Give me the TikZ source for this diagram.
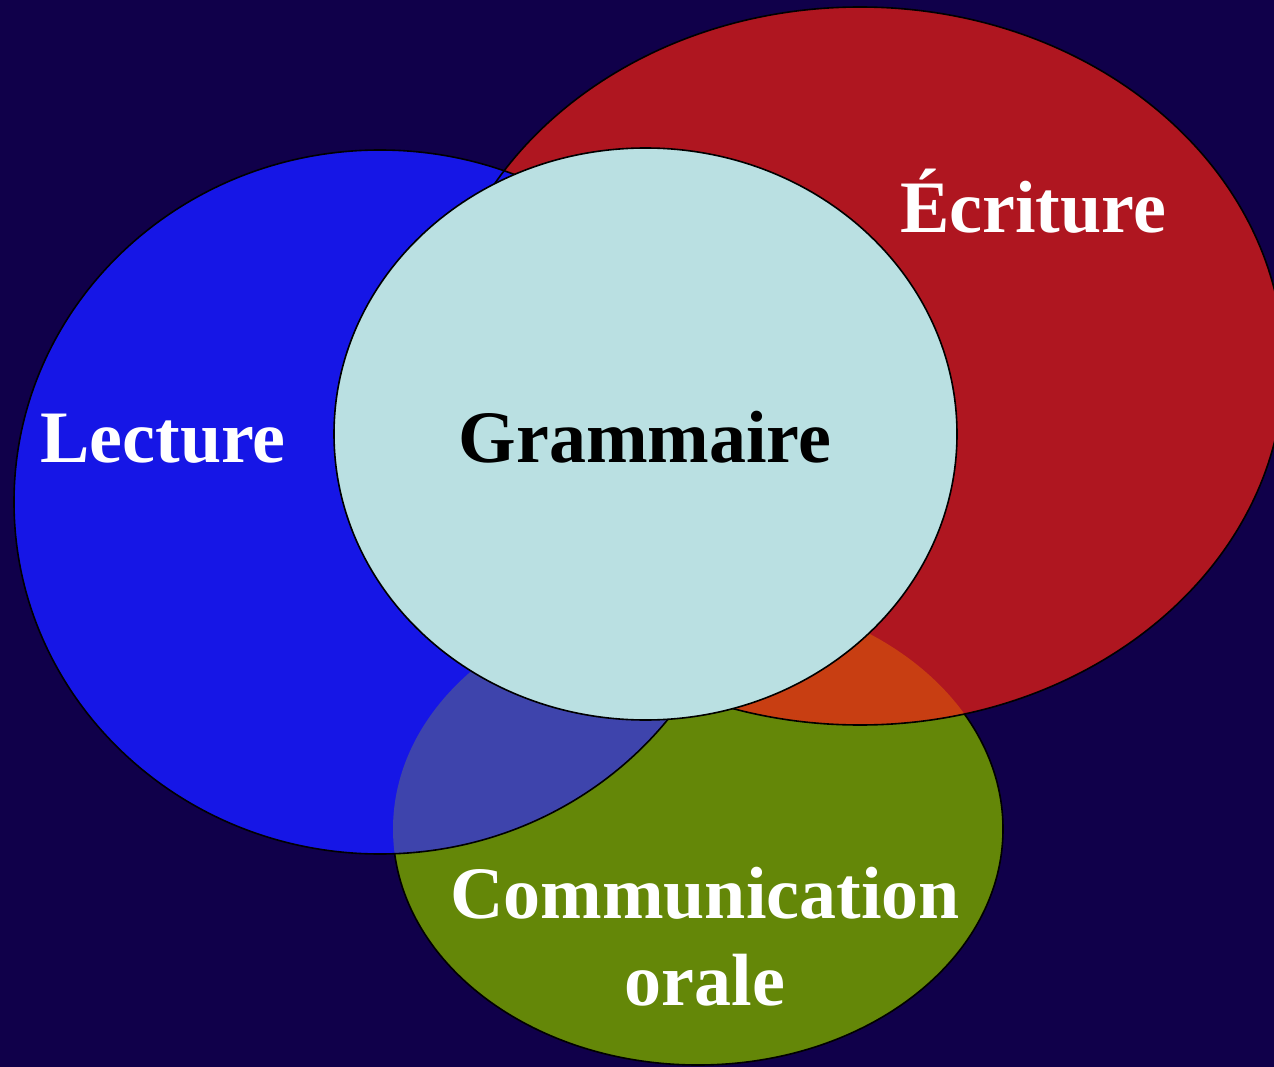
\documentclass[tikz,border=0pt]{standalone}
\usepackage{fontspec}
\setmainfont{Liberation Serif}
\definecolor{bgnavy}{RGB}{16,0,74}
\definecolor{lecblue}{RGB}{22,22,230}
\definecolor{ecrred}{RGB}{175,22,32}
\definecolor{comgreen}{RGB}{100,135,8}
\definecolor{bgmix}{RGB}{62,68,172}
\definecolor{rgmix}{RGB}{200,62,18}
\definecolor{gramcyan}{RGB}{186,224,226}
\tikzset{
  zone/.style={draw=black, line width=1.6pt},
  lbl/.style={font=\fontsize{74}{87}\selectfont\bfseries, text=white, inner sep=0pt, align=center},
}
\begin{document}
\begin{tikzpicture}[x=1pt,y=-1pt]
\useasboundingbox (0,0) rectangle (1274,1067);
\fill[bgnavy] (0,0) rectangle (1274,1067);
% shapes
\coordinate (cg) at (698,829);
\coordinate (cr) at (860,366);
\coordinate (cb) at (380,502);
\coordinate (cc) at (645.5,434);
\fill[comgreen] (cg) ellipse [x radius=305pt, y radius=236pt];
\draw[zone] (cg) ellipse [x radius=305pt, y radius=236pt];
\fill[ecrred] (cr) ellipse [x radius=424pt, y radius=359pt];
\fill[lecblue] (cb) ellipse [x radius=366pt, y radius=352pt];
\begin{scope}
  \clip (cg) ellipse [x radius=305pt, y radius=236pt];
  \fill[rgmix] (cr) ellipse [x radius=424pt, y radius=359pt];
  \fill[bgmix] (cb) ellipse [x radius=366pt, y radius=352pt];
\end{scope}
\draw[zone] (cr) ellipse [x radius=424pt, y radius=359pt];
\draw[zone] (cb) ellipse [x radius=366pt, y radius=352pt];
\fill[gramcyan] (cc) ellipse [x radius=311.5pt, y radius=286pt];
\draw[zone] (cc) ellipse [x radius=311.5pt, y radius=286pt];
% labels
\node[lbl, anchor=base] (lec) at (163,462) {Lecture};
\node[lbl, anchor=base, text=black] (gram) at (645,462) {Grammaire};
\node[lbl, anchor=base] (ecr) at (1033,233) {Écriture};
\node[lbl, anchor=base] (com) at (705,1005) {Communication\\orale};
\end{tikzpicture}
\end{document}
